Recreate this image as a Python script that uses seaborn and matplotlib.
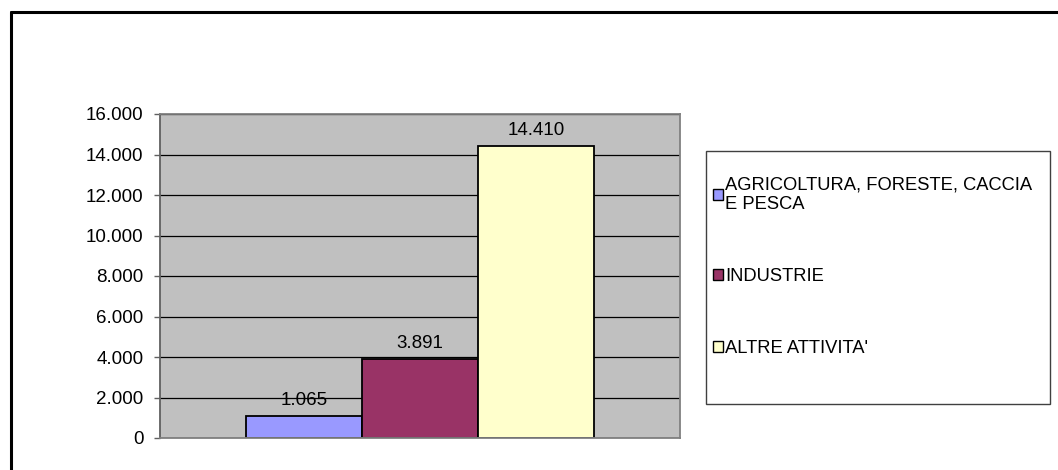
import numpy as np
import matplotlib
matplotlib.use('Agg')
import matplotlib.pyplot as plt
from matplotlib.patches import Patch, Rectangle
from matplotlib.lines import Line2D
import pandas as pd
import seaborn as sns

# dati
categorie = ["AGRICOLTURA, FORESTE, CACCIA\nE PESCA", "INDUSTRIE", "ALTRE ATTIVITA'"]
valori = [1065, 3891, 14410]
colori = ["#9999FF", "#993366", "#FFFFCC"]
yticks = [0, 2000, 4000, 6000, 8000, 10000, 12000, 14000, 16000]


def ita(v):
    # formato italiano con il punto per le migliaia
    return f"{int(v):,}".replace(",", ".")


df = pd.DataFrame({"settore": categorie, "valore": valori})

sns.set_style("white")
plt.rcParams['font.family'] = ['Liberation Sans', 'DejaVu Sans']
plt.rcParams['text.color'] = 'black'
plt.rcParams['ytick.labelcolor'] = 'black'

fig = plt.figure(figsize=(10.58, 4.70), dpi=100)
ax = fig.add_axes([160 / 1058, 32 / 470, 520 / 1058, 324 / 470])

sns.barplot(data=df, x="settore", y="valore", hue="settore", palette=colori,
            saturation=1, width=1, edgecolor="black", linewidth=1.3,
            legend=False, ax=ax)

ax.set_facecolor("#C0C0C0")
ax.set_ylim(0, 16000)
ax.set_xlim(-1.245, 3.245)
ax.set_yticks(yticks)
ax.set_yticklabels([ita(t) for t in yticks], fontsize=13.5, color="black")
ax.set_xticks([])
ax.set_xlabel("")
ax.set_ylabel("")
ax.yaxis.grid(True, color="black", linewidth=0.9)
ax.set_axisbelow(True)
ax.tick_params(axis="y", left=True, length=4, width=1, color="#606060", pad=8)
for s in ax.spines.values():
    s.set_color("#808080")
    s.set_linewidth(1.3)
ax.spines["left"].set_color("#606060")

for cont in ax.containers:
    ax.bar_label(cont, labels=[ita(b.get_height()) for b in cont], padding=5,
                 fontsize=13.5, color="black")

# riquadro legenda
fig.add_artist(Rectangle((706 / 1058, 66 / 470), 344 / 1058, 253 / 470,
                         transform=fig.transFigure, fill=False,
                         edgecolor="#404040", linewidth=1))
handles = [Patch(facecolor=c, edgecolor="black", linewidth=1) for c in colori]
leg = fig.legend(handles, categorie, loc="upper left",
                 bbox_to_anchor=(713 / 1058, (470 - 176) / 470),
                 frameon=False, fontsize=13.2, handlelength=0.55, handleheight=0.55,
                 handletextpad=0.12, labelspacing=3.0, borderpad=0, borderaxespad=0)
for t in leg.get_texts():
    t.set_color("black")

# cornice esterna
fig.add_artist(Line2D([10.5 / 1058, 10.5 / 1058], [0, (470 - 12) / 470],
                      transform=fig.transFigure, color="black", linewidth=2.2))
fig.add_artist(Line2D([10.5 / 1058, 1], [(470 - 12) / 470, (470 - 12) / 470],
                      transform=fig.transFigure, color="black", linewidth=2.2))

fig.savefig("out.png", dpi=100)
